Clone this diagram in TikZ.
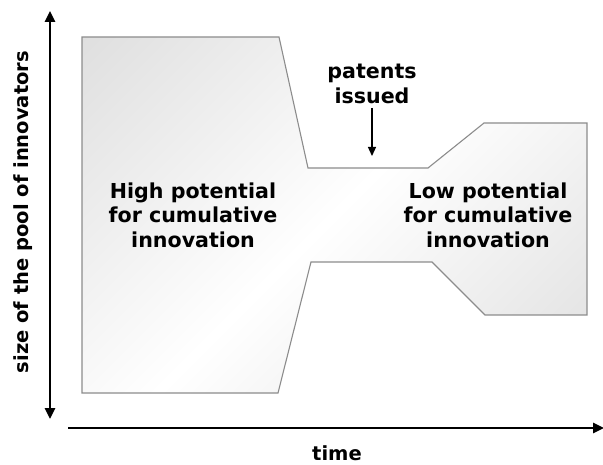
\documentclass[tikz,border=0pt]{standalone}
\usepackage{fontspec}
\setmainfont{DejaVu Sans}
\usetikzlibrary{arrows.meta}
\definecolor{edgegray}{HTML}{8C8C8C}
\definecolor{shadegray}{HTML}{D2D2D2}
% soft grey-white-grey ramp along one axis
\pgfdeclareverticalshading{softramp}{100bp}{
  color(0bp)=(shadegray); color(50bp)=(white); color(100bp)=(shadegray)}
\tikzset{
  axis/.style={line width=2.6pt, -{Triangle[length=11pt,width=10pt]}},
  pointer/.style={line width=1.3pt, -{Triangle[length=9pt,width=8pt]}},
  lbl/.style={font=\fontsize{20.6}{24.5}\selectfont\bfseries, align=center, inner sep=0pt},
  axlbl/.style={font=\fontsize{19.5}{24}\selectfont\bfseries, inner sep=0pt},
  region/.style={draw=edgegray, line width=1.1pt, shading=softramp, shading angle=45}
}
\begin{document}
\begin{tikzpicture}[x=1pt,y=1pt]
  \useasboundingbox (0,0) rectangle (603,-465);
  % the pool of innovators over time
  \shade[region] (82,-37) -- (279,-37) -- (308,-168) -- (428,-168) -- (484,-123)
    -- (587,-123) -- (587,-315) -- (485,-315) -- (432,-262) -- (311,-262)
    -- (278,-393) -- (82,-393) -- cycle;
  % axes
  \coordinate (ytop) at (50,-11);
  \coordinate (ybot) at (50,-419);
  \coordinate (xl) at (68,-428);
  \coordinate (xr) at (604,-428);
  \draw[axis, {Triangle[length=11pt,width=10pt]}-{Triangle[length=11pt,width=10pt]}] (ybot) -- (ytop);
  \draw[axis] (xl) -- (xr);
  \node[axlbl, rotate=90] (ylab) at (23,-212) {size of the pool of innovators};
  \node[axlbl] (xlab) at (337,-453) {time};
  % labels inside the shape
  \node[lbl] (high) at (193,-215) {High potential\\for cumulative\\innovation};
  \node[lbl] (low) at (488,-215) {Low potential\\for cumulative\\innovation};
  \node[lbl] (pat) at (372,-84) {patents\\issued};
  \coordinate (pend) at (372,-156);
  \draw[pointer] (pat.south) ++(0,-4) -- (pend);
\end{tikzpicture}
\end{document}
